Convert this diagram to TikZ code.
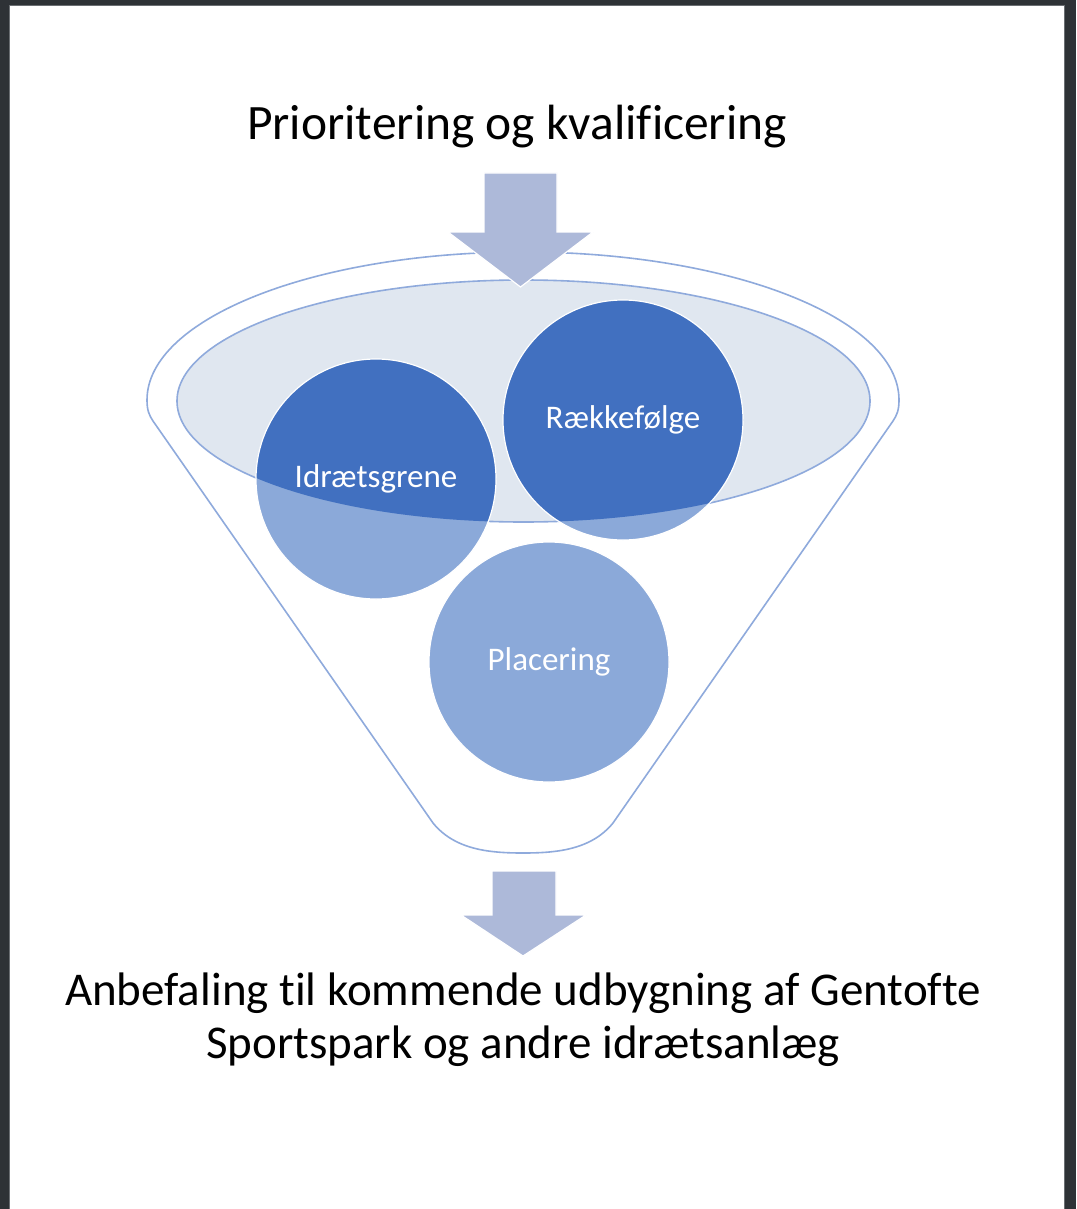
\documentclass[tikz,border=0pt]{standalone}
\usepackage{fontspec}
\setmainfont{Carlito}[Ligatures=CommonOff]
\definecolor{frame}{HTML}{2E3236}
\definecolor{edgegray}{HTML}{6A6E72}
\definecolor{darkblue}{HTML}{4170C0}
\definecolor{lightblue}{HTML}{8BA9D9}
\definecolor{ellfill}{HTML}{E0E7F0}
\definecolor{lineblue}{HTML}{8FAADC}
\definecolor{arrowblue}{HTML}{ADB9D9}
\tikzset{
  outline/.style={draw=lineblue, line width=1.6pt},
  bigarrow/.style={fill=arrowblue, draw=white, line width=1.2pt},
  circ/.style={circle, draw=white, line width=1.2pt, minimum size=240pt, inner sep=0pt,
    text=white, font=\fontsize{33}{38}\selectfont},
  bigtext/.style={text=black, anchor=base}
}
\begin{document}
\begin{tikzpicture}[x=1pt,y=-1pt]
\useasboundingbox (0,0) rectangle (1076,1209);
\fill[frame] (0,0) rectangle (1076,1209);
\fill[white, draw=edgegray, line width=0.8pt] (9,5) rectangle (1064,1215);

% title
\node[bigtext, font=\fontsize{49.5}{55}\selectfont] (title) at (517,140) {Prioritering og kvalificering};

% funnel outline
\draw[outline] (899,400) arc[start angle=0, end angle=180, x radius=376pt, y radius=148pt]
  .. controls (147,410) and (149,415) .. (153,421)
  -- (433,823)
  .. controls (455,850) and (490,853) .. (523,853)
  .. controls (556,853) and (591,850) .. (613,823)
  -- (893,421)
  .. controls (897,415) and (899,410) .. (899,400) -- cycle;

% inner ellipse
\coordinate (ellc) at (523.5,401);
\fill[ellfill] (ellc) ellipse [x radius=346.5pt, y radius=121pt];
\draw[outline] (ellc) ellipse [x radius=346.5pt, y radius=121pt];

% circle centres
\coordinate (c1) at (376,479);
\coordinate (c2) at (623,420);
\coordinate (c3) at (549,662);

% light circles
\fill[lightblue] (c1) circle[radius=120pt] (c2) circle[radius=120pt] (c3) circle[radius=120pt];
% dark parts inside the ellipse
\begin{scope}
  \clip (ellc) ellipse [x radius=346.5pt, y radius=121pt];
  \fill[darkblue] (c1) circle[radius=120pt] (c2) circle[radius=120pt] (c3) circle[radius=120pt];
\end{scope}

\node[circ] (idr) at (c1) {Idrætsgrene};
\node[circ] (rae) at (c2) {Rækkefølge};
\node[circ] (pla) at (c3) {Placering};

% arrows
\draw[bigarrow] (484,173) -- (557,173) -- (557,232) -- (593,232) -- (520.5,287)
  -- (448,232) -- (484,232) -- cycle;
\draw[bigarrow] (492,871) -- (556,871) -- (556,915) -- (586,915) -- (523,956)
  -- (461,915) -- (492,915) -- cycle;

% bottom text
\node[bigtext, font=\fontsize{47}{53}\selectfont] (rec1) at (523,1005) {Anbefaling til kommende udbygning af Gentofte};
\node[bigtext, font=\fontsize{47}{53}\selectfont] (rec2) at (523,1058) {Sportspark og andre idrætsanlæg};
\end{tikzpicture}
\end{document}
